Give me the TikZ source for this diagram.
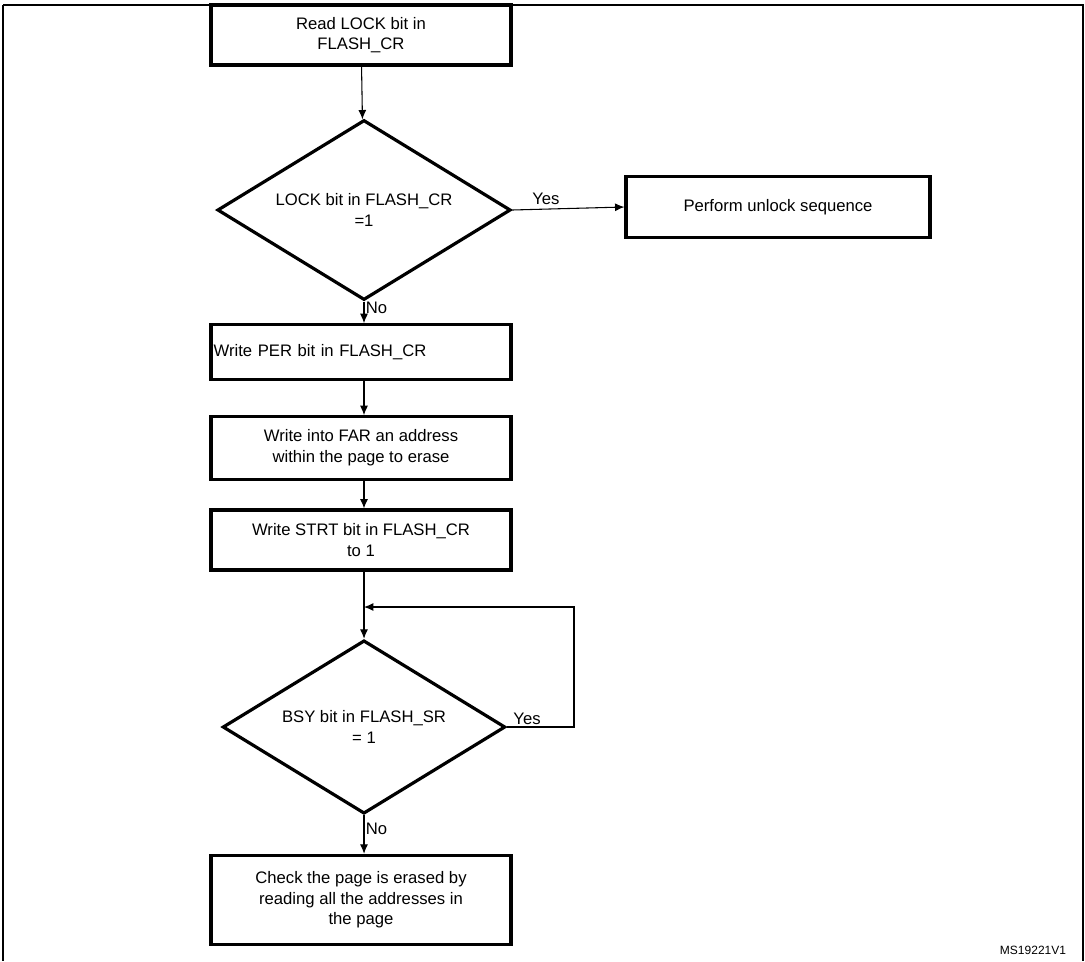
\documentclass[tikz,border=0pt]{standalone}
\usepackage{fontspec}
\setmainfont{Liberation Sans}
\usetikzlibrary{shapes.geometric,positioning,arrows.meta}
\tikzset{
  box/.style={draw=black,line width=2.4pt,minimum width=225pt,align=center,inner sep=2pt},
  decision/.style={draw=black,line width=2.4pt,diamond,aspect=1.6,minimum width=220pt,minimum height=135pt,inner sep=0pt,align=center},
  flow/.style={draw=black,line width=0.8pt,-{Latex[length=7pt,width=6pt]}},
  lbl/.style={inner sep=1pt},
}
\begin{document}
\begin{tikzpicture}[x=0.75pt,y=-0.75pt,font=\fontsize{12.5}{15.5}\selectfont]
\useasboundingbox (0,0) rectangle (1085,961);
\draw[line width=1.2pt] (3,5) -- (3,961) (3,5) -- (1083,5) -- (1083,961);
% main column
\node[box,minimum height=45pt] (readLock) at (361,35) {Read LOCK bit in\\FLASH\_CR};
\node[decision] (lockSet) at (364,210) {LOCK bit in FLASH\_CR\\=1};
\node[box,minimum width=228pt,minimum height=46pt] (unlock) at (778,207) {Perform unlock sequence};
\node[box,minimum height=41pt,align=left,text width=221pt] (writePer) at (361,352) {Write PER bit in FLASH\_CR};
\node[box,minimum height=47pt] (writeFar) at (361,448) {Write into FAR an address\\within the page to erase};
\node[box,minimum height=45pt] (writeStrt) at (361,540) {Write STRT bit in FLASH\_CR\\to 1};
\coordinate (join) at (364,607);
\node[decision,minimum width=212pt,minimum height=130pt] (bsySet) at (364,727) {BSY bit in FLASH\_SR\\= 1};
\node[box,minimum height=67pt] (check) at (361,900) {Check the page is erased by\\reading all the addresses in\\the page};
% connectors
\draw[flow] (readLock) -- (lockSet);
\draw[flow] (lockSet.east) -- node[lbl,above,pos=0.3,yshift=2pt]{Yes} (unlock.west);
\draw[flow] (lockSet.south) -- node[lbl,right,pos=0.3]{No} (writePer.north -| lockSet.south);
\draw[flow] (writePer.south -| lockSet.south) -- (writeFar.north -| lockSet.south);
\draw[flow] (writeFar.south -| lockSet.south) -- (writeStrt.north -| lockSet.south);
\draw[flow] (writeStrt.south -| lockSet.south) -- (bsySet.north);
\draw[flow] (bsySet.east) -- node[lbl,above,pos=0.3]{Yes} (574,727) -- (574,607) -- (join);
\draw[flow] (bsySet.south) -- node[lbl,right,pos=0.35]{No} (check.north -| bsySet.south);
\node[font=\fontsize{9}{11}\selectfont] (ref) at (1033,950) {MS19221V1};
\end{tikzpicture}
\end{document}
